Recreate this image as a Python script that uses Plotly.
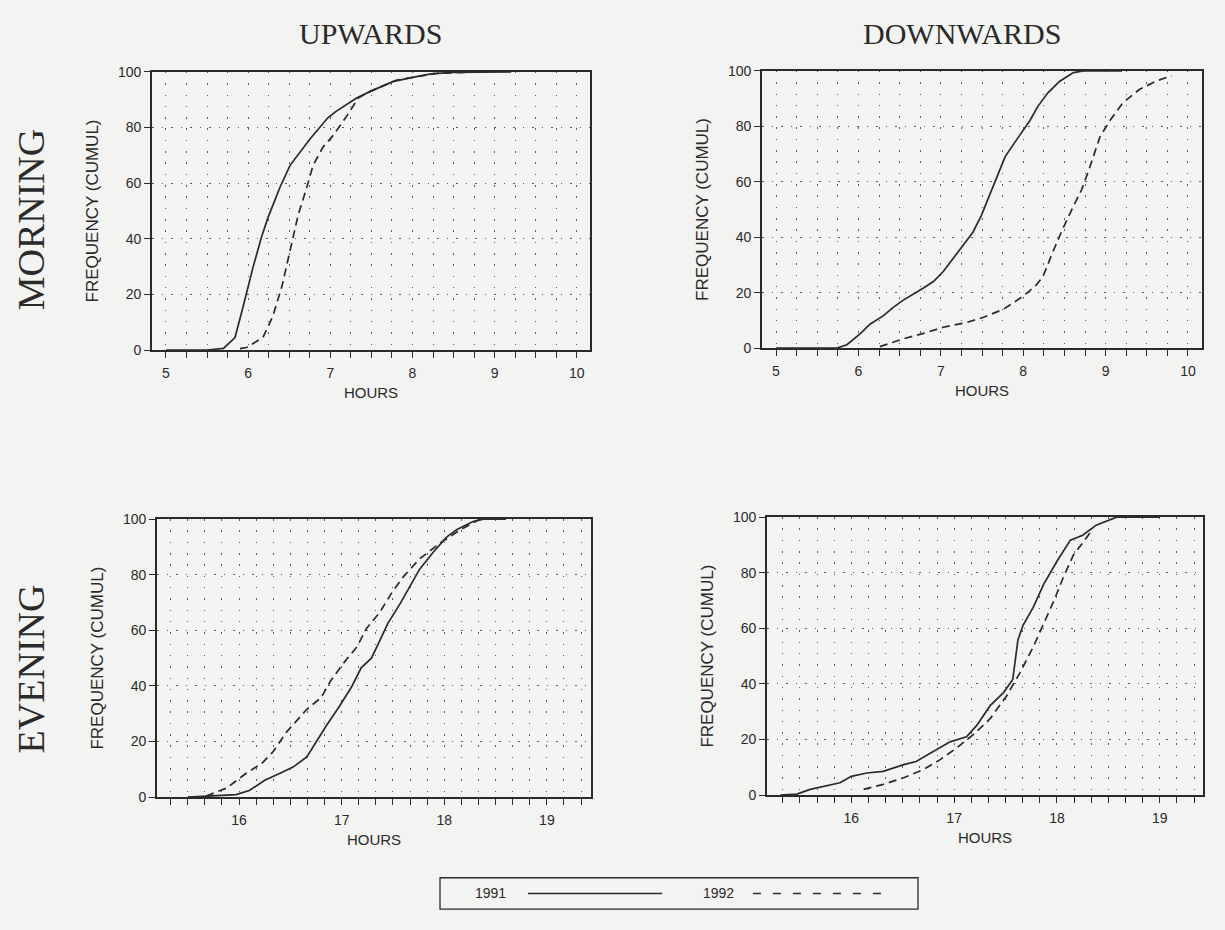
import plotly.graph_objects as go

# cumulative frequency (%) against hour of day

# morning, upwards
mu_h_1991 = [5.0, 5.5, 5.70, 5.84, 5.94, 6.0, 6.06, 6.16, 6.24, 6.39, 6.51, 6.75, 6.97, 7.07,
             7.32, 7.48, 7.76, 8.0, 8.21, 8.45, 8.82, 9.2]
mu_f_1991 = [0, 0, 0.6, 4.5, 15.7, 22.8, 29.8, 40.4, 47.5, 58.7, 66.4, 75.8, 83.5, 85.8,
             90.6, 92.9, 96.5, 98.0, 99.2, 99.8, 100, 100]
mu_h_1992 = [5.9, 5.98, 6.18, 6.30, 6.41, 6.51, 6.61, 6.71, 6.79, 6.91, 7.03, 7.20, 7.34,
             7.48, 7.8, 8.3, 8.8]
mu_f_1992 = [0.5, 0.9, 4.5, 12.1, 22.8, 35.7, 48.7, 58.1, 66.4, 72.9, 77.0, 84.1, 90.6,
             92.9, 97.0, 99.5, 100]

# morning, downwards
md_h_1991 = [5.0, 5.74, 5.86, 6.02, 6.14, 6.30, 6.42, 6.54, 6.79, 6.91, 7.03, 7.15, 7.27,
             7.39, 7.49, 7.57, 7.66, 7.78, 7.90, 8.0, 8.08, 8.18, 8.30, 8.44, 8.61, 8.73, 9.2]
md_f_1991 = [0, 0, 1.2, 5.1, 8.6, 11.6, 14.6, 17.2, 21.7, 24.0, 27.6, 32.3, 37.3,
             41.8, 47.7, 53.6, 60.7, 69.0, 74.3, 78.5, 82.0, 87.3, 92.1, 96.2, 99.4, 100, 100]
md_h_1992 = [6.26, 6.54, 6.79, 7.03, 7.31, 7.51, 7.76, 8.0, 8.16, 8.24, 8.36, 8.48, 8.61,
             8.71, 8.81, 8.93, 9.05, 9.21, 9.41, 9.62, 9.80]
md_f_1992 = [0.5, 3.3, 5.3, 7.5, 9.2, 11.0, 14.0, 18.7, 22.8, 25.8, 34.7, 43.0, 51.2,
             57.2, 65.4, 76.1, 82.0, 88.5, 93.3, 96.4, 98.3]

# evening, upwards
eu_h_1991 = [15.5, 15.68, 15.97, 16.10, 16.25, 16.40, 16.53, 16.66, 16.75, 16.85, 16.98,
             17.10, 17.19, 17.29, 17.36, 17.45, 17.57, 17.66, 17.76, 17.89, 18.02, 18.12,
             18.28, 18.38, 18.6]
eu_f_1991 = [0, 0.4, 0.9, 2.4, 6.1, 8.6, 10.9, 14.5, 19.8, 25.7, 32.8,
             39.9, 46.5, 50.0, 55.4, 62.5, 69.6, 75.5, 82.0, 88.0, 93.4, 96.2,
             99.1, 100, 100]
eu_h_1992 = [15.68, 15.88, 16.07, 16.22, 16.33, 16.46, 16.66, 16.80, 16.89, 17.02, 17.15,
             17.24, 17.37, 17.49, 17.60, 17.76, 17.96, 18.15, 18.35]
eu_f_1992 = [0.4, 3.3, 8.6, 12.1, 16.3, 23.3, 31.6, 35.8, 41.7, 48.3, 54.1,
             60.6, 66.4, 73.6, 79.2, 85.7, 91.4, 96.0, 100]

# evening, downwards
ed_h_1991 = [15.31, 15.47, 15.60, 15.76, 15.89, 16.0, 16.15, 16.31, 16.51, 16.63, 16.80,
             16.96, 17.12, 17.22, 17.35, 17.48, 17.57, 17.62, 17.67, 17.77, 17.87, 18.0,
             18.13, 18.25, 18.38, 18.58, 19.0]
ed_f_1991 = [0, 0.4, 2.1, 3.5, 4.5, 6.8, 8.0, 8.6, 11.0, 12.1, 15.7,
             19.2, 21.0, 25.1, 32.2, 36.9, 41.6, 55.8, 61.1, 67.6, 75.8, 84.1,
             91.7, 93.5, 97.1, 100, 100]
ed_h_1992 = [16.12, 16.31, 16.51, 16.70, 16.86, 17.02, 17.18, 17.35, 17.51, 17.64, 17.77,
             17.87, 17.97, 18.06, 18.16, 18.26, 18.35]
ed_f_1992 = [2.1, 3.9, 6.3, 9.2, 12.7, 16.9, 21.6, 27.5, 35.7, 44.0, 53.4,
             61.7, 69.9, 78.2, 86.4, 91.2, 95.9]

col_titles = ["UPWARDS", "DOWNWARDS"]
row_titles = ["MORNING", "EVENING"]
years = ["1991", "1992"]

W, H = 1225, 930
ink = "#2a2a2a"
dots = "#5e5e5e"
bg = "#f3f3f1"
sans = "Liberation Sans, Arial, sans-serif"
serif = "Liberation Serif, Times New Roman, serif"


def px(x):
    return x / W


def py(y):
    return 1 - y / H


fig = go.Figure()

panels = [
    ("x", "y", mu_h_1991, mu_f_1991, mu_h_1992, mu_f_1992),
    ("x2", "y2", md_h_1991, md_f_1991, md_h_1992, md_f_1992),
    ("x3", "y3", eu_h_1991, eu_f_1991, eu_h_1992, eu_f_1992),
    ("x4", "y4", ed_h_1991, ed_f_1991, ed_h_1992, ed_f_1992),
]
for xa, ya, h1, f1, h2, f2 in panels:
    fig.add_trace(go.Scatter(x=h1, y=f1, xaxis=xa, yaxis=ya, mode="lines", name=years[0],
                             line=dict(color=ink, width=1.7), showlegend=False))
    fig.add_trace(go.Scatter(x=h2, y=f2, xaxis=xa, yaxis=ya, mode="lines", name=years[1],
                             line=dict(color=ink, width=1.7, dash="8px,5px"), showlegend=False))


def xaxis(left, right, rng, minor_step, minor0, anchor):
    return dict(
        domain=[px(left), px(right)], range=rng, anchor=anchor,
        tickmode="linear", tick0=5, dtick=1,
        ticks="outside", ticklen=6, tickwidth=1.2, tickcolor=ink,
        tickfont=dict(family=sans, size=14, color=ink), ticklabelstandoff=3,
        showline=True, mirror=True, linecolor=ink, linewidth=1.6, zeroline=False,
        showgrid=True, gridcolor=dots, gridwidth=1.3, griddash="1.5px,9.82px",
        minor=dict(tickmode="linear", tick0=minor0, dtick=minor_step, ticks="outside",
                   ticklen=6, tickwidth=1.2, tickcolor=ink, showgrid=True,
                   gridcolor=dots, gridwidth=1.3, griddash="1.5px,9.82px"),
        title=dict(text="HOURS", font=dict(family=sans, size=15, color=ink), standoff=8),
    )


def yaxis(top, bottom, anchor):
    return dict(
        domain=[py(bottom), py(top)], range=[0, 100], anchor=anchor,
        tickmode="linear", tick0=0, dtick=20,
        ticks="outside", ticklen=6, tickwidth=1.2, tickcolor=ink,
        tickfont=dict(family=sans, size=14, color=ink),
        showline=True, mirror=True, linecolor=ink, linewidth=1.6, zeroline=False,
        showgrid=True, gridcolor=dots, gridwidth=1.3, griddash="1.5px,8px",
        title=dict(text="FREQUENCY (CUMUL)", font=dict(family=sans, size=17, color=ink),
                   standoff=15),
    )


fig.update_layout(
    width=W, height=H,
    margin=dict(l=0, r=0, t=0, b=0),
    paper_bgcolor=bg, plot_bgcolor=bg,
    xaxis=xaxis(152, 590, [4.83, 10.16], 0.25, 5, "y"),
    xaxis2=xaxis(762, 1202, [4.83, 10.17], 0.25, 5, "y2"),
    xaxis3=xaxis(157, 591, [15.2, 19.43], 1 / 6, 15, "y3"),
    xaxis4=xaxis(767, 1203, [15.18, 19.42], 1 / 6, 15, "y4"),
    yaxis=yaxis(65, 348, "x"),
    yaxis2=yaxis(64, 346, "x2"),
    yaxis3=yaxis(520, 803, "x3"),
    yaxis4=yaxis(518, 801, "x4"),
    showlegend=False,
)

# column and row headings
for txt, cx in zip(col_titles, [370, 962]):
    fig.add_annotation(text=txt, x=px(cx), y=py(26), xref="paper", yref="paper",
                       xanchor="center", yanchor="middle", showarrow=False,
                       font=dict(family=serif, size=30, color=ink))
for txt, cy in zip(row_titles, [215, 673]):
    fig.add_annotation(text=txt, x=px(31), y=py(cy), xref="paper", yref="paper",
                       xanchor="center", yanchor="middle", showarrow=False, textangle=-90,
                       font=dict(family=serif, size=38, color=ink))

# legend box drawn by hand, the sample lines are much longer than plotly's
lg_top, lg_bot = 885, 917
lg_mid = (lg_top + lg_bot) / 2
fig.add_shape(type="rect", xref="paper", yref="paper",
              x0=px(440), x1=px(918), y0=py(lg_bot), y1=py(lg_top),
              line=dict(color=ink, width=1.3), fillcolor=bg)
fig.add_shape(type="line", xref="paper", yref="paper",
              x0=px(528), x1=px(662), y0=py(lg_mid), y1=py(lg_mid),
              line=dict(color=ink, width=1.5))
fig.add_shape(type="line", xref="paper", yref="paper",
              x0=px(753), x1=px(889), y0=py(lg_mid), y1=py(lg_mid),
              line=dict(color=ink, width=1.5, dash="8px,12px"))
for txt, cx in zip(years, [491, 718]):
    fig.add_annotation(text=txt, x=px(cx), y=py(lg_mid), xref="paper", yref="paper",
                       xanchor="center", yanchor="middle", showarrow=False,
                       font=dict(family=sans, size=14, color=ink))

# the page body has a default 8px margin, remove it so the figure fills the window
fig.write_html("out.html", config={"displayModeBar": False},
               post_script="document.body.style.margin='0';")
